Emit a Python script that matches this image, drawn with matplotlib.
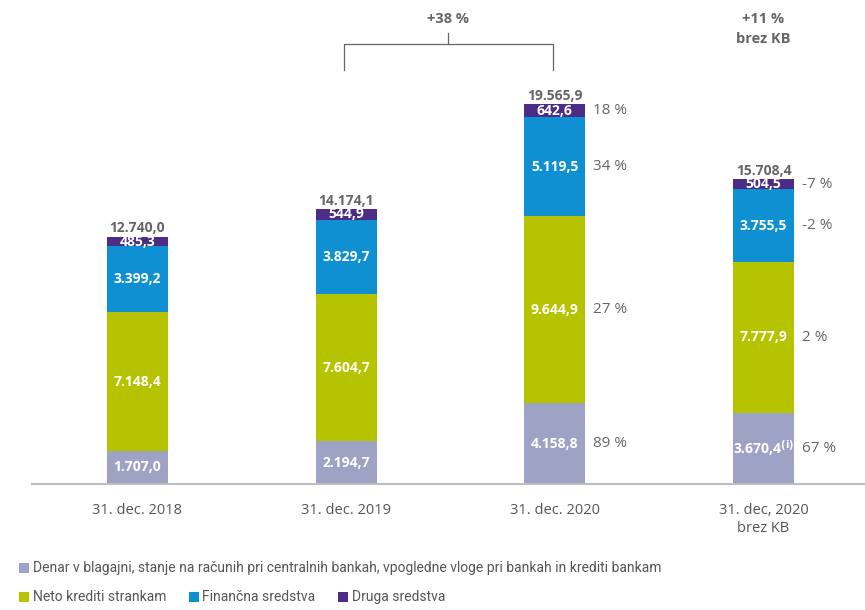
import matplotlib
matplotlib.use("Agg")
import matplotlib.pyplot as plt
from matplotlib.patches import Rectangle

plt.rcParams['font.family'] = ['Open Sans', 'DejaVu Sans']

categories = ["31. dec. 2018", "31. dec. 2019", "31. dec. 2020", "31. dec, 2020\nbrez KB"]
denar = [1707.0, 2194.7, 4158.8, 3670.4]
neto = [7148.4, 7604.7, 9644.9, 7777.9]
financna = [3399.2, 3829.7, 5119.5, 3755.5]
druga = [485.3, 544.9, 642.6, 504.5]
totals = [12740.0, 14174.1, 19565.9, 15708.4]
pct_labels = [None, None, ["89 %", "27 %", "34 %", "18 %"], ["67 %", "2 %", "-2 %", "-7 %"]]
series_names = ["Denar v blagajni, stanje na računih pri centralnih bankah, vpogledne vloge pri bankah in krediti bankam",
                "Neto krediti strankam", "Finančna sredstva", "Druga sredstva"]
colors = ["#9EA3C6", "#B5C300", "#0E90D2", "#4B2C87"]

def fmt(v):
    s = f"{v:,.1f}"
    return s.replace(",", "X").replace(".", ",").replace("X", ".")

W, H = 865, 610
fig = plt.figure(figsize=(W/100, H/100), dpi=100)
base_px = 484
ymax = 24900
ax = fig.add_axes([32/W, (H-base_px)/H, 1-32/W, 483/H])
ax.set_xlim(-0.505, 3.486)
ax.set_ylim(0, ymax)
for s in ["top", "right", "left"]:
    ax.spines[s].set_visible(False)
ax.spines["bottom"].set_color("#BDBDBD")
ax.spines["bottom"].set_linewidth(1.5)
ax.set_yticks([])
x = list(range(len(categories)))
ax.set_xticks(x)
ax.set_xticklabels(categories, fontsize=10.5, color="#555555")
ax.tick_params(axis="x", length=0, pad=14)

width = 0.292
series = [denar, neto, financna, druga]
bottoms = [0]*4
for si, vals in enumerate(series):
    ax.bar(x, vals, width, bottom=bottoms, color=colors[si], linewidth=0)
    for i, v in enumerate(vals):
        yc = bottoms[i] + v/2
        lab = fmt(v)
        if si == 0 and i == 3:
            lab = lab + r"$^{\mathbf{(i)}}$"
        ax.text(x[i], yc, lab, ha="center", va="center", color="white",
                fontsize=10, fontweight="bold")
        if pct_labels[i] is not None:
            ax.annotate(pct_labels[i][si], (x[i] + width/2, yc), xytext=(5.5, 0),
                        textcoords="offset points", ha="left", va="center",
                        color="#666666", fontsize=11)
    bottoms = [b + v for b, v in zip(bottoms, vals)]

for i, t in enumerate(totals):
    ax.annotate(fmt(t), (x[i], t), xytext=(0, 1), textcoords="offset points",
                ha="center", va="bottom", color="#666666", fontsize=10, fontweight="bold")

# bracket
yb = 22680; yl = 21340; yt = 23250
x1, x2 = 0.99, 1.99
ax.plot([x1, x1, x2, x2], [yl, yb, yb, yl], color="#666666", lw=0.9, clip_on=False)
ax.plot([(x1+x2)/2]*2, [yb, yt], color="#666666", lw=0.9, clip_on=False)
ax.text((x1+x2)/2, 23980, "+38 %", ha="center", va="center", color="#666666",
        fontsize=10.5, fontweight="bold", clip_on=False)
ax.text(3, 23980, "+11 %", ha="center", va="center", color="#666666",
        fontsize=10.5, fontweight="bold", clip_on=False)
ax.text(3, 22950, "brez KB", ha="center", va="center", color="#666666",
        fontsize=10.5, fontweight="bold", clip_on=False)

# legend (manual, positions follow text widths)
legfont = dict(fontsize=10, color="#555555", va="center", ha="left",
               family=['Roboto', 'DejaVu Sans'])
renderer = fig.canvas.get_renderer()
def leg_item(px, py, color, text):
    fig.patches.append(Rectangle((px/W, 1-(py+5)/H), 10/W, 10/H, transform=fig.transFigure,
                                 facecolor=color, edgecolor="none"))
    t = fig.text((px+14)/W, 1-py/H, text, **legfont)
    bb = t.get_window_extent(renderer=renderer)
    return bb.x1
leg_item(19, 568, colors[0], series_names[0])
xe = leg_item(19, 597, colors[1], series_names[1])
xe = leg_item(max(142, xe + 22), 597, colors[2], series_names[2])
leg_item(max(248, xe + 22), 597, colors[3], series_names[3])

fig.savefig("out.png", dpi=100)
